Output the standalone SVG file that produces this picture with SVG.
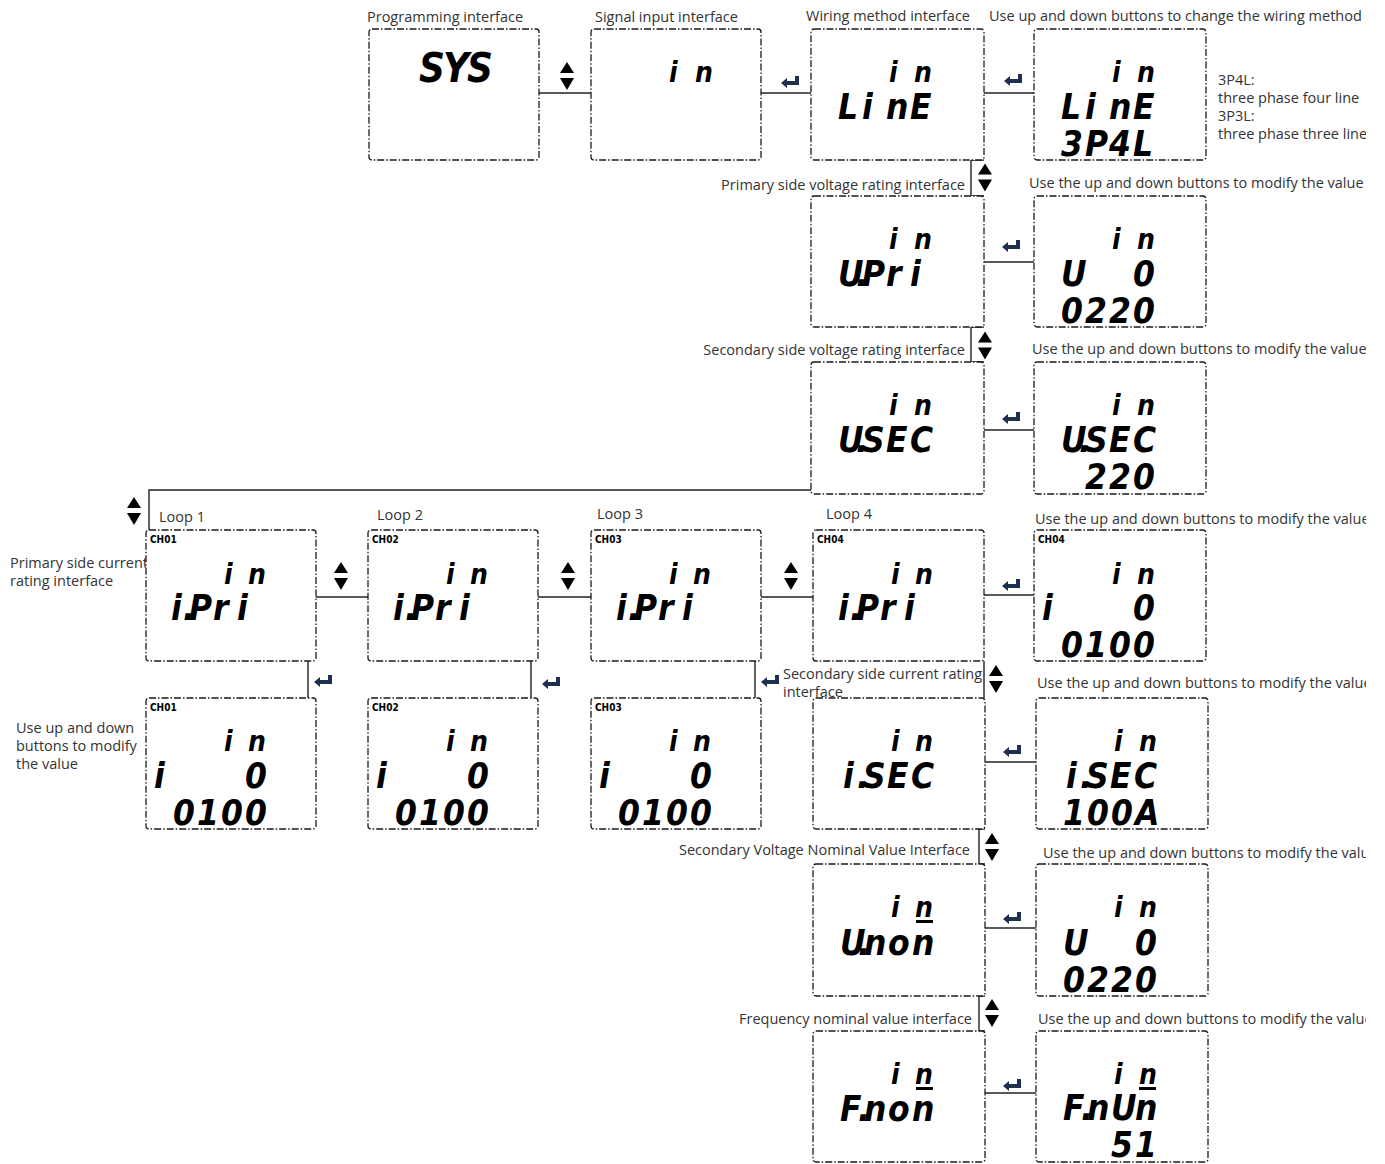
<svg xmlns="http://www.w3.org/2000/svg" xmlns:xlink="http://www.w3.org/1999/xlink" width="1385" height="1164" viewBox="0 0 1385 1164">
<style>
.box{fill:#fff;stroke:#1a1a1a;stroke-width:1.3;stroke-dasharray:7 2 1.5 2}
.lbl{font-family:"Open Sans","Noto Sans",sans-serif;font-size:14.5px;fill:#333}
.lcd{font-family:"DejaVu Sans Condensed","DejaVu Sans",sans-serif;font-weight:bold;font-style:italic;font-size:35px;fill:#000}
.top{font-family:"DejaVu Sans Condensed","DejaVu Sans",sans-serif;font-weight:bold;font-style:italic;font-size:28px;fill:#000}
.big{font-family:"DejaVu Sans Condensed","DejaVu Sans",sans-serif;font-weight:bold;font-style:italic;font-size:40px;fill:#000}
.ch{font-family:"DejaVu Sans Condensed","DejaVu Sans",sans-serif;font-weight:bold;font-size:10px;fill:#000}
.ln{fill:none;stroke:#222;stroke-width:1.4}
.bar{fill:#000}
</style>
<defs>
<symbol id="ud" viewBox="0 0 14 28"><polygon points="7,0 14,11 0,11" fill="#000"/><polygon points="0,16 14,16 7,28" fill="#000"/></symbol>
<symbol id="ent" viewBox="0 0 18 12"><polygon points="0,7 6,2 6,5 14,5 14,0 18,0 18,9 6,9 6,12" fill="#1f2f4f"/></symbol>
<clipPath id="clip"><rect x="0" y="0" width="1366" height="1164"/></clipPath>
</defs>
<rect width="1385" height="1164" fill="#fff"/>

<g id="connectors">
<path class="ln" d="M539,93 H591"/>
<path class="ln" d="M761,93 H811"/>
<path class="ln" d="M984,93 H1034"/>
<path class="ln" d="M984,160 H971 V196 H984"/>
<path class="ln" d="M984,262 H1034"/>
<path class="ln" d="M984,327 H971 V362 H984"/>
<path class="ln" d="M984,430 H1034"/>
<path class="ln" d="M811,490 H149 V530"/>
<path class="ln" d="M316,597 H368"/>
<path class="ln" d="M537,597 H591"/>
<path class="ln" d="M761,597 H813"/>
<path class="ln" d="M984,595 H1034"/>
<path class="ln" d="M308,661 V698"/>
<path class="ln" d="M531,661 V698"/>
<path class="ln" d="M755,661 V698"/>
<path class="ln" d="M984,661 V698"/>
<path class="ln" d="M985,762 H1036"/>
<path class="ln" d="M985,829 H979 V864 H985"/>
<path class="ln" d="M985,928 H1036"/>
<path class="ln" d="M985,996 H979 V1031 H985"/>
<path class="ln" d="M985,1093 H1036"/>
<use xlink:href="#ud" x="560" y="62" width="14" height="28"/>
<use xlink:href="#ent" x="781" y="76" width="18" height="12"/>
<use xlink:href="#ent" x="1004" y="74" width="18" height="12"/>
<use xlink:href="#ud" x="978" y="163" width="14" height="29"/>
<use xlink:href="#ent" x="1002" y="240" width="18" height="12"/>
<use xlink:href="#ud" x="978" y="331" width="14" height="29"/>
<use xlink:href="#ent" x="1002" y="412" width="18" height="12"/>
<use xlink:href="#ud" x="127" y="497" width="14" height="28"/>
<use xlink:href="#ud" x="334" y="562" width="14" height="28"/>
<use xlink:href="#ud" x="561" y="562" width="14" height="28"/>
<use xlink:href="#ud" x="784" y="562" width="14" height="28"/>
<use xlink:href="#ent" x="1002" y="579" width="18" height="12"/>
<use xlink:href="#ent" x="314" y="675" width="18" height="12"/>
<use xlink:href="#ent" x="542" y="677" width="18" height="12"/>
<use xlink:href="#ent" x="761" y="675" width="18" height="12"/>
<use xlink:href="#ud" x="989" y="665" width="14" height="28"/>
<use xlink:href="#ent" x="1003" y="745" width="18" height="12"/>
<use xlink:href="#ud" x="985" y="833" width="14" height="28"/>
<use xlink:href="#ent" x="1003" y="912" width="18" height="12"/>
<use xlink:href="#ud" x="985" y="999" width="14" height="28"/>
<use xlink:href="#ent" x="1003" y="1079" width="18" height="12"/>
</g>

<g id="labels" clip-path="url(#clip)">
<text class="lbl" x="367" y="22">Programming interface</text>
<text class="lbl" x="595" y="22">Signal input interface</text>
<text class="lbl" x="806" y="21">Wiring method interface</text>
<text class="lbl" x="989" y="21">Use up and down buttons to change the wiring method</text>
<text class="lbl" x="1218" y="85">3P4L:</text>
<text class="lbl" x="1218" y="103">three phase four line</text>
<text class="lbl" x="1218" y="121">3P3L:</text>
<text class="lbl" x="1218" y="139">three phase three line</text>
<text class="lbl" x="965" y="190" text-anchor="end">Primary side voltage rating interface</text>
<text class="lbl" x="1029" y="188">Use the up and down buttons to modify the value</text>
<text class="lbl" x="965" y="355" text-anchor="end">Secondary side voltage rating interface</text>
<text class="lbl" x="1032" y="354">Use the up and down buttons to modify the value</text>
<text class="lbl" x="159" y="522">Loop 1</text>
<text class="lbl" x="377" y="520">Loop 2</text>
<text class="lbl" x="597" y="519">Loop 3</text>
<text class="lbl" x="826" y="519">Loop 4</text>
<text class="lbl" x="1035" y="524">Use the up and down buttons to modify the value</text>
<text class="lbl" x="10" y="568">Primary side current</text>
<text class="lbl" x="10" y="586">rating interface</text>
<text class="lbl" x="16" y="733">Use up and down</text>
<text class="lbl" x="16" y="751">buttons to modify</text>
<text class="lbl" x="16" y="769">the value</text>
<text class="lbl" x="783" y="679">Secondary side current rating</text>
<text class="lbl" x="783" y="697">interface</text>
<text class="lbl" x="1037" y="688">Use the up and down buttons to modify the value</text>
<text class="lbl" x="970" y="855" text-anchor="end">Secondary Voltage Nominal Value Interface</text>
<text class="lbl" x="1043" y="858">Use the up and down buttons to modify the value</text>
<text class="lbl" x="972" y="1024" text-anchor="end">Frequency nominal value interface</text>
<text class="lbl" x="1038" y="1024">Use the up and down buttons to modify the value</text>
</g>

<g id="n1"><rect class="box" x="369" y="29" width="170" height="131" rx="3"/>
<text class="big" x="419 443 467" y="82">SYS</text></g>
<g id="n2"><rect class="box" x="591" y="29" width="170" height="131" rx="3"/>
<text class="top" x="669 695" y="82">in</text></g>
<g id="n3"><rect class="box" x="811" y="29" width="173" height="131" rx="3"/>
<text class="top" x="889 914" y="82">in</text>
<text class="lcd" x="838 862 886 910" y="119">LinE</text></g>
<g id="n4"><rect class="box" x="1034" y="29" width="172" height="131" rx="3"/>
<text class="top" x="1112 1137" y="82">in</text>
<text class="lcd" x="1061 1085 1109 1133" y="119">LinE</text>
<text class="lcd" x="1061 1085 1109 1133" y="156">3P4L</text></g>
<g id="n5"><rect class="box" x="811" y="196" width="173" height="131" rx="3"/>
<text class="top" x="889 914" y="249">in</text>
<text class="lcd" x="838 856 862 886 910" y="286">U.Pri</text></g>
<g id="n6"><rect class="box" x="1034" y="196" width="172" height="131" rx="3"/>
<text class="top" x="1112 1137" y="249">in</text>
<text class="lcd" x="1061 1097 1133" y="286">U 0</text>
<text class="lcd" x="1061 1085 1109 1133" y="323">0220</text></g>
<g id="n7"><rect class="box" x="811" y="362" width="173" height="132" rx="3"/>
<text class="top" x="889 914" y="415">in</text>
<text class="lcd" x="838 856 862 886 910" y="452">U.SEC</text></g>
<g id="n8"><rect class="box" x="1034" y="362" width="172" height="132" rx="3"/>
<text class="top" x="1112 1137" y="415">in</text>
<text class="lcd" x="1061 1079 1085 1109 1133" y="452">U.SEC</text>
<text class="lcd" x="1085 1109 1133" y="489">220</text></g>

<g id="n9"><rect class="box" x="146" y="530" width="170" height="131" rx="3"/>
<text class="ch" x="150" y="543">CH01</text>
<text class="top" x="224 248" y="584">in</text>
<text class="lcd" x="171 183 189 213 237" y="620">i.Pri</text></g>
<g id="n10"><rect class="box" x="368" y="530" width="170" height="131" rx="3"/>
<text class="ch" x="372" y="543">CH02</text>
<text class="top" x="446 470" y="584">in</text>
<text class="lcd" x="393 405 411 435 459" y="620">i.Pri</text></g>
<g id="n11"><rect class="box" x="591" y="530" width="170" height="131" rx="3"/>
<text class="ch" x="595" y="543">CH03</text>
<text class="top" x="669 693" y="584">in</text>
<text class="lcd" x="616 628 634 658 682" y="620">i.Pri</text></g>
<g id="n12"><rect class="box" x="813" y="530" width="171" height="131" rx="3"/>
<text class="ch" x="817" y="543">CH04</text>
<text class="top" x="891 915" y="584">in</text>
<text class="lcd" x="838 850 856 880 904" y="620">i.Pri</text></g>
<g id="n13"><rect class="box" x="1034" y="530" width="172" height="131" rx="3"/>
<text class="ch" x="1038" y="543">CH04</text>
<text class="top" x="1112 1137" y="584">in</text>
<text class="lcd" x="1042 1080 1133" y="620">i 0</text>
<text class="lcd" x="1061 1085 1109 1133" y="657">0100</text></g>

<g id="n14"><rect class="box" x="146" y="698" width="170" height="131" rx="3"/>
<text class="ch" x="150" y="711">CH01</text>
<text class="top" x="224 248" y="751">in</text>
<text class="lcd" x="154 190 245" y="788">i 0</text>
<text class="lcd" x="173 197 221 245" y="825">0100</text></g>
<g id="n15"><rect class="box" x="368" y="698" width="170" height="131" rx="3"/>
<text class="ch" x="372" y="711">CH02</text>
<text class="top" x="446 470" y="751">in</text>
<text class="lcd" x="376 412 467" y="788">i 0</text>
<text class="lcd" x="395 419 443 467" y="825">0100</text></g>
<g id="n16"><rect class="box" x="591" y="698" width="170" height="131" rx="3"/>
<text class="ch" x="595" y="711">CH03</text>
<text class="top" x="669 693" y="751">in</text>
<text class="lcd" x="599 635 690" y="788">i 0</text>
<text class="lcd" x="618 642 666 690" y="825">0100</text></g>
<g id="n17"><rect class="box" x="813" y="698" width="172" height="131" rx="3"/>
<text class="top" x="891 915" y="751">in</text>
<text class="lcd" x="843 857 863 887 911" y="788">i.SEC</text></g>
<g id="n18"><rect class="box" x="1036" y="698" width="172" height="131" rx="3"/>
<text class="top" x="1114 1139" y="751">in</text>
<text class="lcd" x="1066 1080 1086 1110 1134" y="788">i.SEC</text>
<text class="lcd" x="1063 1087 1111 1135" y="825">100A</text></g>

<g id="n19"><rect class="box" x="813" y="864" width="172" height="132" rx="3"/>
<text class="top" x="891 915" y="917">in</text>
<rect class="bar" x="916" y="920" width="17" height="3"/>
<text class="lcd" x="840 858 864 888 912" y="955">U.non</text></g>
<g id="n20"><rect class="box" x="1036" y="864" width="172" height="132" rx="3"/>
<text class="top" x="1114 1139" y="917">in</text>
<text class="lcd" x="1063 1099 1135" y="955">U 0</text>
<text class="lcd" x="1063 1087 1111 1135" y="992">0220</text></g>
<g id="n21"><rect class="box" x="813" y="1031" width="172" height="131" rx="3"/>
<text class="top" x="891 915" y="1084">in</text>
<rect class="bar" x="916" y="1087" width="17" height="3"/>
<text class="lcd" x="840 858 864 888 912" y="1121">F.non</text></g>
<g id="n22"><rect class="box" x="1036" y="1031" width="172" height="131" rx="3"/>
<text class="top" x="1114 1139" y="1084">in</text>
<rect class="bar" x="1139" y="1087" width="17" height="3"/>
<text class="lcd" x="1063 1081 1087 1111 1135" y="1120">F.nUn</text>
<text class="lcd" x="1111 1135" y="1157">51</text></g>
</svg>
